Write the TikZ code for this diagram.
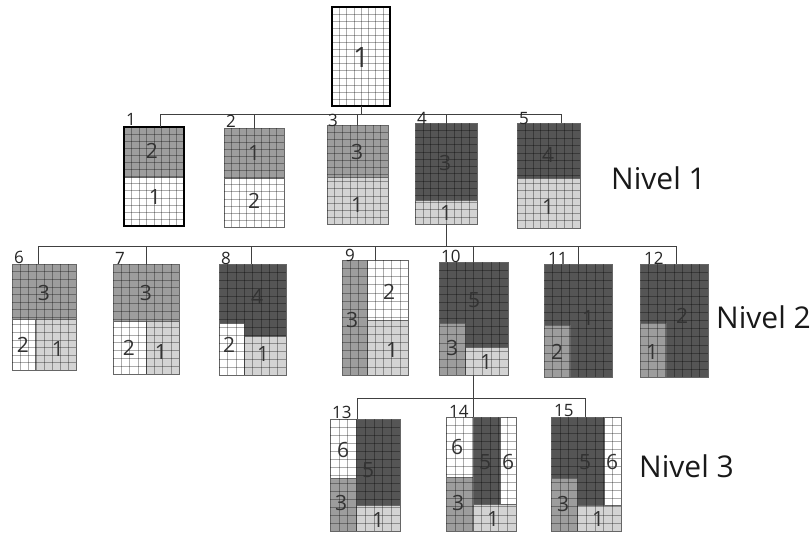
\documentclass[tikz,border=0pt]{standalone}
\usepackage{fontspec}
\setsansfont{Open Sans}
\usepackage{xcolor}

\begin{document}
\begin{tikzpicture}[x=1pt, y=-1pt, font=\sffamily,
  panelbox/.style={draw=none, rectangle, inner sep=0pt, outer sep=0pt},
  tree/.style={draw=black!75, line width=0.6pt},
  gridln/.style={draw=black, opacity=0.33, line width=0.35pt},
  regline/.style={draw=black!60, line width=0.5pt},
  numlbl/.style={font=\sffamily\fontsize{21}{21}\selectfont, text=black!80},
  idlbl/.style={font=\sffamily\fontsize{17}{17}\selectfont, text=black!85, anchor=west, inner sep=0pt},
  lvllbl/.style={font=\sffamily\fontsize{30}{30}\selectfont, text=black!90, anchor=west, inner sep=0pt}]

% --- base colors (grey levels) ---
\definecolor{cWhite}{HTML}{FFFFFF}
\definecolor{cLight}{HTML}{D3D3D3}
\definecolor{cMid}  {HTML}{9D9D9D}
\definecolor{cDark} {HTML}{555555}

\useasboundingbox (0,0) rectangle (810,533);

% --- shaded regions (x1/y1/x2/y2/colour) ---
\foreach \xa/\ya/\xb/\yb/\col in
  {332/7/390/106/cWhite,
   124/127/184/177/cMid, 124/177/184/226/cWhite,
   224/128/284/178/cMid, 224/178/284/227/cWhite,
   327/125/388/177/cMid, 327/177/388/224/cLight,
   415/123/477/200/cDark, 415/200/477/224/cLight,
   517/123/580/178/cDark, 517/178/580/228/cLight,
   12/264/76/319/cMid, 12/319/35/370/cWhite, 35/319/76/370/cLight,
   113/264/179/321/cMid, 113/321/146/374/cWhite, 146/321/179/374/cLight,
   219/264/286/375/cDark, 219/323/244/375/cWhite, 244/336/286/375/cLight,
   342/260/367/375/cMid, 367/260/408/320/cWhite, 367/320/408/375/cLight,
   439/262/508/375/cDark, 439/323/465/375/cMid, 465/347/508/375/cLight,
   544/264/612/377/cDark, 544/325/570/377/cMid,
   640/264/708/377/cDark, 640/323/666/377/cMid,
   330/419/356/478/cWhite, 330/478/356/531/cMid, 356/419/400/505/cDark, 356/505/400/531/cLight,
   446/417/473/477/cWhite, 446/477/473/531/cMid, 473/417/500/504/cDark,
   500/417/516/504/cWhite, 473/504/516/531/cLight,
   551/417/621/531/cDark, 551/478/577/531/cMid, 577/505/621/531/cLight, 604/417/621/505/cWhite}{%
  \filldraw[regline, fill=\col] (\xa,\ya) rectangle (\xb,\yb);
}

% --- panels: grid + named box ---
\foreach \nm/\xa/\ya/\xb/\yb in
  {root/332/7/390/106,
   b1/124/127/184/226, b2/224/128/284/227, b3/327/125/388/224,
   b4/415/123/477/224, b5/517/123/580/228,
   b6/12/264/76/370, b7/113/264/179/374, b8/219/264/286/375,
   b9/342/260/408/375, b10/439/262/508/375, b11/544/264/612/377,
   b12/640/264/708/377,
   b13/330/419/400/531, b14/446/417/516/531, b15/551/417/621/531}{%
  \pgfmathsetmacro{\pnlw}{\xb-\xa}
  \pgfmathsetmacro{\pnlh}{\yb-\ya}
  \foreach \k in {1,...,7}
    \draw[gridln] (\xa+\k*\pnlw/8, \ya) -- (\xa+\k*\pnlw/8, \yb);
  \foreach \k in {1,...,13}
    \draw[gridln] (\xa, \ya+\k*\pnlh/14) -- (\xb, \ya+\k*\pnlh/14);
  \node[panelbox, minimum width=\pnlw pt, minimum height=\pnlh pt]
       (\nm) at ({(\xa+\xb)/2}, {(\ya+\yb)/2}) {};
}

% bold frames
\draw[line width=1.6pt] (root.north west) rectangle (root.south east);
\draw[line width=1.6pt] (b1.north west) rectangle (b1.south east);

% --- tree connectors ---
\foreach \ch/\dx in {b1/6, b2/0, b3/0, b4/0, b5/12.5}
  \draw[tree] (root.south) -- ++(0,8) -| ([xshift=\dx pt]\ch.north);
\foreach \ch/\dx in {b6/-6, b7/0, b8/-1.5, b9/0, b10/0, b11/0, b12/2}
  \draw[tree] (b4.south) -- ++(0,22) -| ([xshift=\dx pt]\ch.north);
\foreach \ch/\dx in {b13/-8, b14/-8, b15/-1}
  \draw[tree] (b10.south) -- ++(0,23) -| ([xshift=\dx pt]\ch.north);

% --- numbers inside the regions ---
\node[numlbl, font=\sffamily\fontsize{28}{28}\selectfont] (n0) at (361,58) {1};
\foreach \px/\py/\txt [count=\i] in
  {152/151/2, 155/197/1, 254/153/1, 254/201/2,
   357/152/3, 357/205/1, 445/163/3, 446/213/1,
   548/155/4, 548/207/1,
   44/293/3, 23/345/2, 58/349/1,
   146/293/3, 129/348/2, 161/352/1,
   257/297/4, 229/345/2, 263/354/1,
   352/320/3, 389/292/2, 392/350/1,
   474/300/5, 452/348/3, 486/362/1,
   588/318/1, 557/352/2,
   682/316/2, 652/352/1,
   343/450/6, 341/503/3, 368/470/5, 378/520/1,
   457/447/6, 458/503/3, 485/462/5, 508/462/6, 493/519/1,
   585/462/5, 612/462/6, 563/504/3, 598/519/1}{%
  \node[numlbl] (n\i) at (\px,\py) {\txt};
}

% --- panel numbers ---
\foreach \px/\py/\txt in
  {126/119/1, 226/121/2, 328/120/3, 417/118/4, 519/119/5,
   14/257/6, 115/258/7, 221/258/8, 345/255/9, 441/256/10,
   548/258/11, 644/258/12,
   332/412/13, 449/411/14, 554/411/15}{%
  \node[idlbl] (id\txt) at (\px,\py) {\txt};
}

% --- level labels ---
\node[lvllbl] (lvl1) at (611,178) {Nivel 1};
\node[lvllbl] (lvl2) at (716,317) {Nivel 2};
\node[lvllbl] (lvl3) at (639,466) {Nivel 3};

\end{tikzpicture}
\end{document}
